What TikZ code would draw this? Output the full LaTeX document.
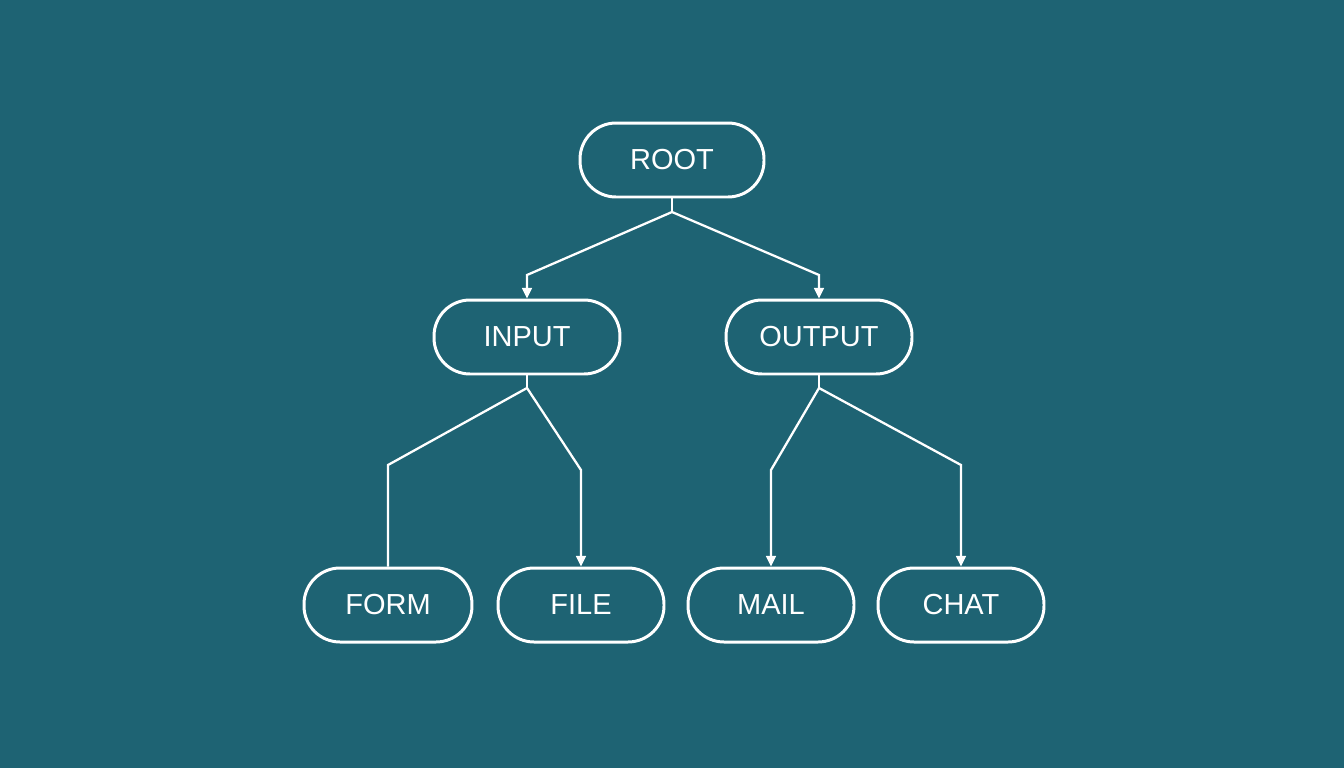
\documentclass[tikz,border=0pt]{standalone}
\usepackage{fontspec}
\setmainfont{Liberation Sans}
\usetikzlibrary{arrows.meta}
\definecolor{bgteal}{HTML}{1E6373}

\begin{document}
\begin{tikzpicture}[x=0.02cm,y=-0.02cm,
box/.style={draw=white, line width=1.7pt, rounded corners=0.72cm, minimum height=1.48cm, text=white, font=\fontsize{16.5}{19}\selectfont},
link/.style={draw=white, line width=1.3pt},
arr/.style={link, -{Triangle[width=5.5pt,length=6pt]}}]

\fill[bgteal] (0,0) rectangle (1344,768);

\node[box, minimum width=3.68cm] (Root) at (672,160) {ROOT};
\node[box, minimum width=3.72cm] (Input) at (527,337) {INPUT};
\node[box, minimum width=3.72cm] (Output) at (819,337) {OUTPUT};
\node[box, minimum width=3.36cm] (Form) at (388,605) {FORM};
\node[box, minimum width=3.32cm] (File) at (581,605) {FILE};
\node[box, minimum width=3.32cm] (Mail) at (771,605) {MAIL};
\node[box, minimum width=3.32cm] (Chat) at (961,605) {CHAT};

\coordinate (RootJ) at (672,212);
\coordinate (InJ) at (527,388);
\coordinate (OutJ) at (819,388);

\draw[link] (Root.south)--(RootJ);
\draw[arr] (RootJ)--(527,275)--(Input.north);
\draw[arr] (RootJ)--(819,275)--(Output.north);

\draw[link] (Input.south)--(InJ);
\draw[link] (InJ)--(388,465)--(Form.north);
\draw[arr] (InJ)--(581,470)--(File.north);

\draw[link] (Output.south)--(OutJ);
\draw[arr] (OutJ)--(771,470)--(Mail.north);
\draw[arr] (OutJ)--(961,465)--(Chat.north);

\end{tikzpicture}
\end{document}
